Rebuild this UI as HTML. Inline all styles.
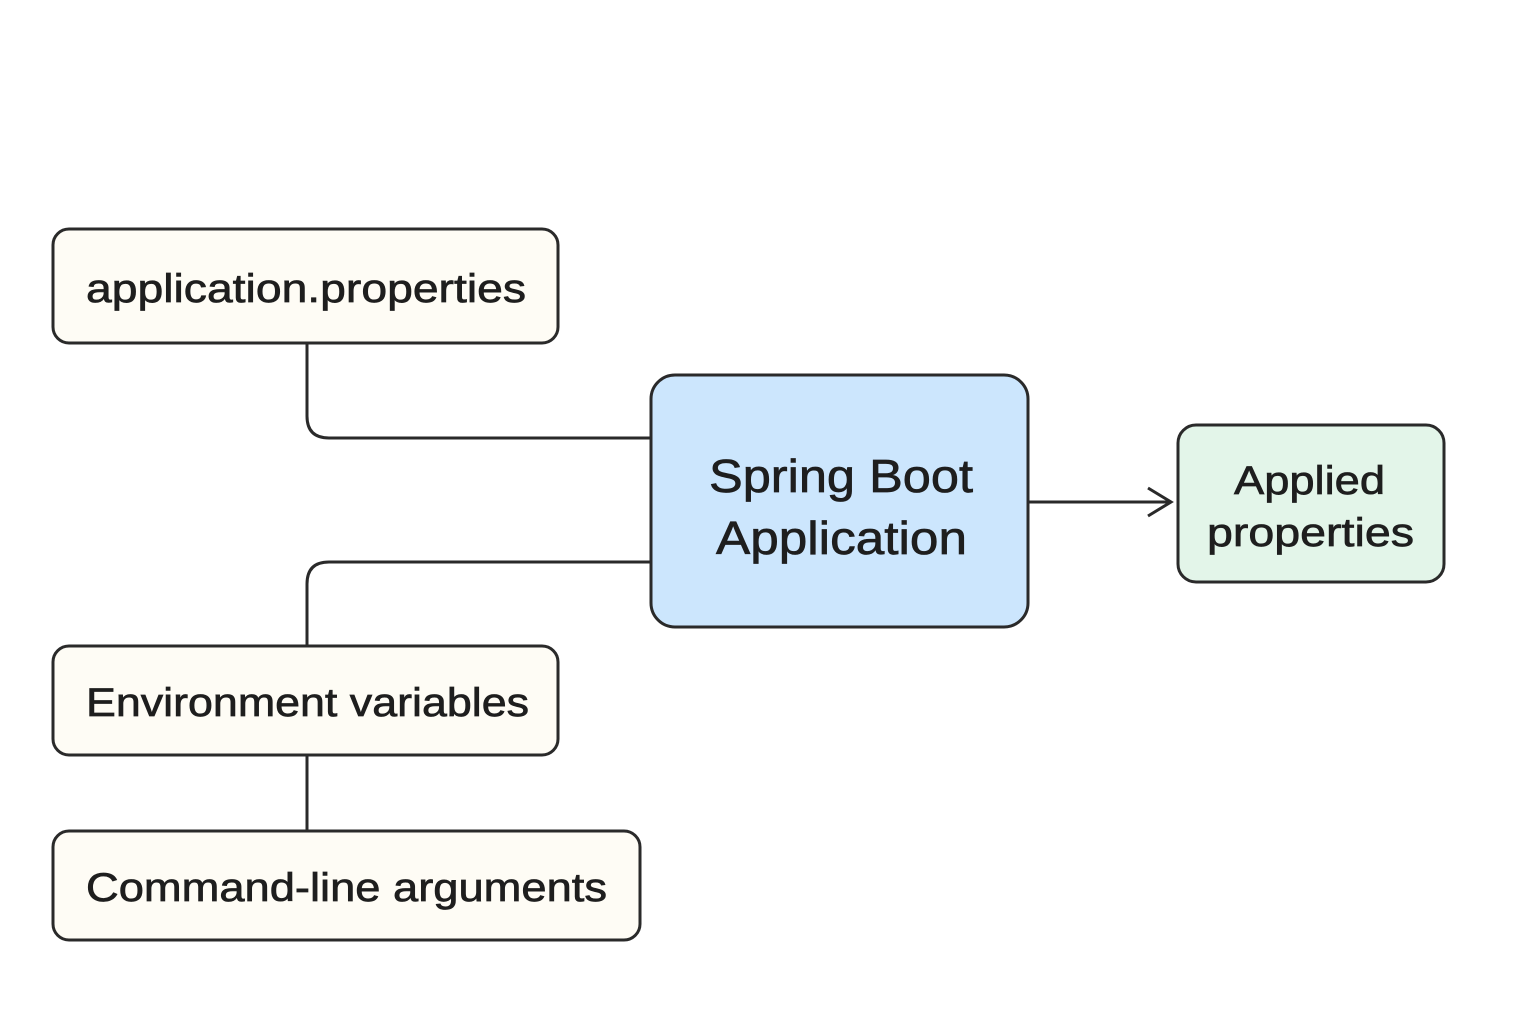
<!DOCTYPE html>
<html><head><meta charset="utf-8"><style>
html,body{margin:0;padding:0;background:#fff;}
svg{display:block;}
text{font-family:"Liberation Sans",sans-serif;fill:#1e1e1e;stroke:#1e1e1e;stroke-width:0.7;}
</style></head><body>
<svg width="1536" height="1024" viewBox="0 0 1536 1024" xmlns="http://www.w3.org/2000/svg">
<g fill="none" stroke="#2a2a2a" stroke-width="3">
<path d="M307 343 V416 Q307 438 329 438 H651"/>
<path d="M651 562 H329 Q307 562 307 584 V646"/>
<path d="M307 755 V831"/>
<path d="M1028 502 H1170"/>
<path d="M1148 488 L1171 502 L1148 516"/>
</g>
<g stroke="#2a2a2a" stroke-width="3">
<rect x="53" y="229" width="505" height="114" rx="16" fill="#fefcf5"/>
<rect x="651" y="375" width="377" height="252" rx="24" fill="#cce6fd"/>
<rect x="1178" y="425" width="266" height="157" rx="18" fill="#e3f5e9"/>
<rect x="53" y="646" width="505" height="109" rx="16" fill="#fefcf5"/>
<rect x="53" y="831" width="587" height="109" rx="16" fill="#fefcf5"/>
</g>
<text x="86" y="302" font-size="40" textLength="440" lengthAdjust="spacingAndGlyphs">application.properties</text>
<text x="709" y="492" font-size="46" textLength="264" lengthAdjust="spacingAndGlyphs">Spring Boot</text>
<text x="716" y="554" font-size="46" textLength="251" lengthAdjust="spacingAndGlyphs">Application</text>
<text x="1234" y="494" font-size="40" textLength="151" lengthAdjust="spacingAndGlyphs">Applied</text>
<text x="1207" y="546" font-size="40" textLength="207" lengthAdjust="spacingAndGlyphs">properties</text>
<text x="86" y="716" font-size="40" textLength="443" lengthAdjust="spacingAndGlyphs">Environment variables</text>
<text x="86" y="901" font-size="40" textLength="521" lengthAdjust="spacingAndGlyphs">Command-line arguments</text>
</svg>
</body></html>
